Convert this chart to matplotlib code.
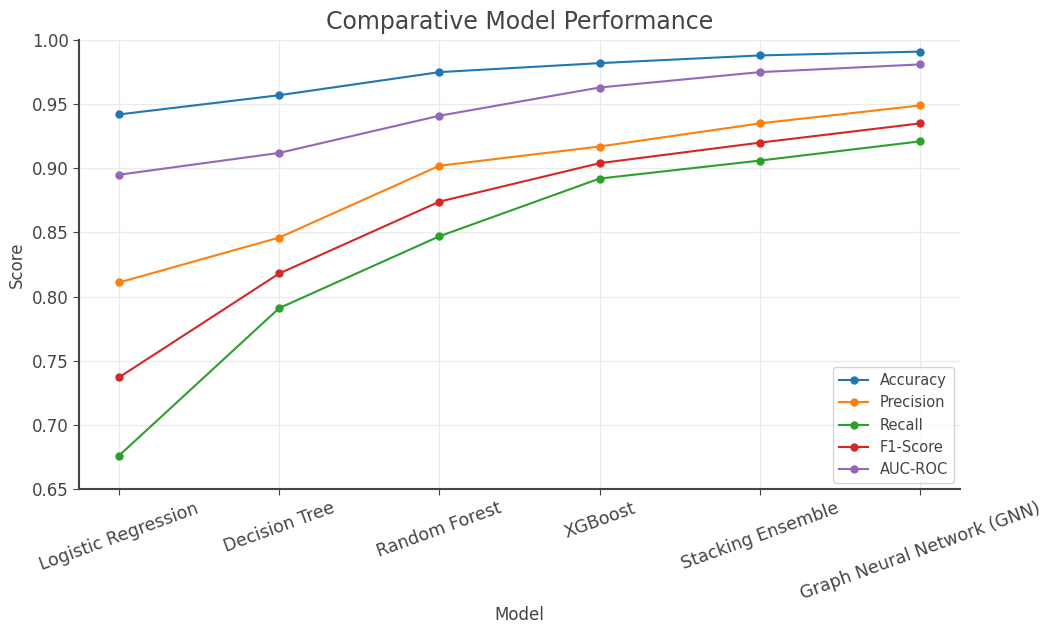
import matplotlib
matplotlib.use("Agg")
import matplotlib.pyplot as plt

models = ["Logistic Regression", "Decision Tree", "Random Forest", "XGBoost",
          "Stacking Ensemble", "Graph Neural Network (GNN)"]
accuracy = [0.942, 0.957, 0.975, 0.982, 0.988, 0.991]
precision = [0.811, 0.846, 0.902, 0.917, 0.935, 0.949]
recall = [0.676, 0.791, 0.847, 0.892, 0.906, 0.921]
f1_score = [0.737, 0.818, 0.874, 0.904, 0.920, 0.935]
auc_roc = [0.895, 0.912, 0.941, 0.963, 0.975, 0.981]

series = [("Accuracy", accuracy), ("Precision", precision), ("Recall", recall),
          ("F1-Score", f1_score), ("AUC-ROC", auc_roc)]
colors = ["#1f77b4", "#ff7f0e", "#2ca02c", "#d62728", "#9467bd"]

text_color = "#444444"
plt.rcParams["font.family"] = "DejaVu Sans"

fig = plt.figure(figsize=(10.44, 6.26), dpi=100)
ax = fig.add_axes([0.0757, 0.219, 0.8438, 0.717])

x = list(range(len(models)))
for (name, vals), c in zip(series, colors):
    ax.plot(x, vals, marker="o", markersize=5, linewidth=1.5, color=c, label=name)

ax.set_ylim(0.65, 1.00)
ax.set_xlim(-0.25, 5.25)
ax.set_xticks(x)
ax.set_xticklabels(models, rotation=20, ha="center", fontsize=12.5, color=text_color)
ax.set_yticks([0.65, 0.70, 0.75, 0.80, 0.85, 0.90, 0.95, 1.00])
ax.set_yticklabels([f"{v:.2f}" for v in [0.65, 0.70, 0.75, 0.80, 0.85, 0.90, 0.95, 1.00]],
                   fontsize=12, color=text_color)
ax.tick_params(axis="both", length=4, color=text_color)
ax.grid(True, color="#ebebeb", linewidth=1)
ax.set_axisbelow(True)
for s in ["top", "right"]:
    ax.spines[s].set_visible(False)
for s in ["left", "bottom"]:
    ax.spines[s].set_color(text_color)
    ax.spines[s].set_linewidth(1.5)

ax.set_title("Comparative Model Performance", fontsize=17, color=text_color, pad=8)
ax.set_xlabel("Model", fontsize=12, color=text_color, labelpad=2)
ax.set_ylabel("Score", fontsize=12, color=text_color)
leg = ax.legend(loc="lower right", fontsize=10.5, frameon=True, borderaxespad=0.4)
for t in leg.get_texts():
    t.set_color(text_color)

fig.savefig("out.png", dpi=100)
